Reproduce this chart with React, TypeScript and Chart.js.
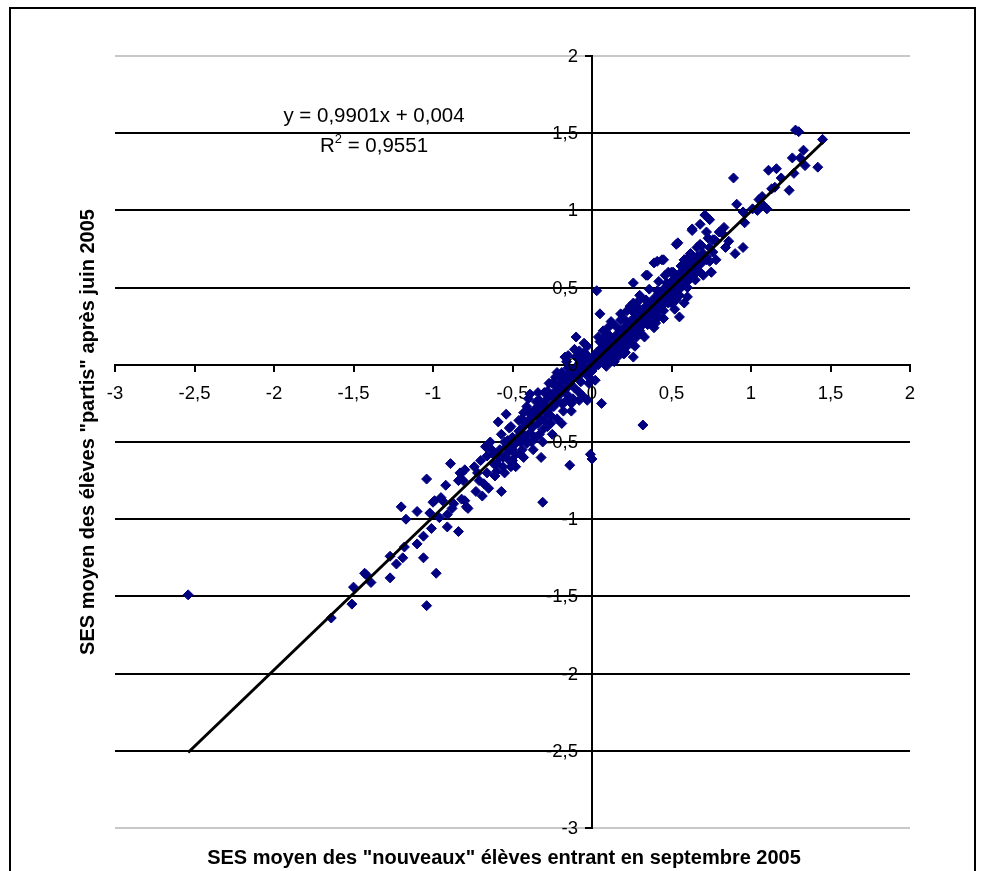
import React, { useEffect, useRef } from 'react';
import { Chart, registerables } from 'chart.js';

Chart.register(...registerables);

// Axis titles and regression annotation
const X_TITLE = 'SES moyen des "nouveaux" élèves entrant en septembre 2005';
const Y_TITLE = 'SES moyen des élèves "partis" après juin 2005';
const SLOPE = 0.9901;
const INTERCEPT = 0.004;
const EQUATION = 'y = 0,9901x + 0,004';
const R2_VALUE = '0,9551';

// Axis ranges
const X_MIN = -3;
const X_MAX = 2;
const Y_MIN = -3;
const Y_MAX = 2;
const STEP = 0.5;

// Schools: [SES of new pupils, SES of departed pupils]
const lowerTail: [number, number][] = [
  [-2.54, -1.49], [-1.64, -1.64], [-1.51, -1.55], [-1.50, -1.44], [-1.43, -1.35], [-1.42, -1.36],
  [-1.39, -1.41], [-1.27, -1.38], [-1.27, -1.24], [-1.23, -1.29], [-1.19, -1.25], [-1.18, -1.18],
  [-1.20, -0.92], [-1.17, -1.00], [-1.10, -0.95], [-1.10, -1.16], [-1.06, -1.11], [-1.06, -1.25],
  [-1.04, -0.74], [-1.04, -1.56], [-1.01, -1.06], [-0.98, -1.35], [-1.02, -0.96], [-0.99, -0.88],
  [-0.94, -0.88], [-0.96, -0.99], [-0.92, -0.78], [-0.89, -0.64], [-0.91, -1.05], [-0.91, -0.97],
  [-0.88, -0.93], [-0.84, -1.08], [-0.83, -0.70], [-0.81, -0.75], [-0.84, -0.75], [-0.82, -0.87],
  [-0.79, -0.92], [-0.80, -0.88], [-1.00, -0.89], [-0.95, -0.86], [-0.87, -0.90], [-0.82, -0.70],
  [-0.80, -0.68], [-0.78, -0.93],
];

const lowerCloud: [number, number][] = [
  [-0.74, -0.66], [-0.73, -0.82], [-0.71, -0.75], [-0.68, -0.77], [-0.67, -0.53], [-0.66, -0.59],
  [-0.63, -0.55], [-0.62, -0.64], [-0.60, -0.69], [-0.58, -0.60], [-0.57, -0.82], [-0.56, -0.66],
  [-0.54, -0.53], [-0.53, -0.49], [-0.51, -0.66], [-0.52, -0.41], [-0.59, -0.37], [-0.54, -0.32],
  [-0.50, -0.55], [-0.47, -0.49], [-0.45, -0.45], [-0.44, -0.35], [-0.43, -0.31], [-0.42, -0.48],
  [-0.41, -0.27], [-0.39, -0.19], [-0.38, -0.40], [-0.36, -0.29], [-0.35, -0.47], [-0.33, -0.23],
  [-0.32, -0.60], [-0.31, -0.89], [-0.30, -0.36], [-0.29, -0.27], [-0.28, -0.17], [-0.26, -0.38],
  [-0.24, -0.25], [-0.23, -0.08], [-0.21, -0.14], [-0.19, -0.05], [-0.17, 0.05], [-0.15, -0.14],
  [-0.14, -0.65], [-0.13, -0.25], [-0.10, -0.06], [-0.08, -0.23], [-0.07, 0.07], [-0.04, -0.05],
  [-0.03, 0.12], [-0.01, -0.58], [0.00, -0.61], [-0.17, -0.24],
  [-0.62, -0.58], [-0.60, -0.64], [-0.58, -0.55], [-0.56, -0.60], [-0.55, -0.50], [-0.53, -0.57],
  [-0.52, -0.62], [-0.50, -0.47], [-0.49, -0.52], [-0.48, -0.58], [-0.46, -0.43], [-0.45, -0.50],
  [-0.44, -0.55], [-0.43, -0.40], [-0.42, -0.46], [-0.41, -0.51], [-0.40, -0.36], [-0.39, -0.44],
  [-0.38, -0.33], [-0.37, -0.40], [-0.36, -0.47], [-0.35, -0.32], [-0.34, -0.38], [-0.33, -0.28],
  [-0.32, -0.35], [-0.31, -0.42], [-0.30, -0.26], [-0.29, -0.31], [-0.28, -0.22], [-0.27, -0.29],
  [-0.26, -0.33], [-0.25, -0.20], [-0.24, -0.27], [-0.23, -0.17], [-0.22, -0.24], [-0.21, -0.13],
  [-0.20, -0.19], [-0.19, -0.25], [-0.18, -0.10], [-0.17, -0.16], [-0.16, -0.07], [-0.15, -0.20],
  [-0.14, -0.12], [-0.13, -0.04], [-0.12, -0.09], [-0.11, -0.15], [-0.10, -0.02], [-0.09, -0.07],
  [-0.08, 0.01], [-0.07, -0.11], [-0.06, -0.05], [-0.05, 0.03], [-0.04, -0.02], [-0.03, 0.06],
  [-0.02, -0.08], [-0.01, 0.02], [0.00, -0.04],
  [-0.05, 0.08], [-0.10, 0.05], [-0.15, -0.02], [-0.20, -0.08], [-0.25, -0.12], [-0.30, -0.18],
  [-0.35, -0.24], [-0.40, -0.30], [-0.02, -0.12], [-0.08, -0.18], [-0.12, -0.22], [-0.18, -0.30],
  [-0.22, -0.35], [-0.28, -0.40], [-0.33, -0.45], [-0.38, -0.50], [-0.45, -0.58], [-0.50, -0.62],
  [-0.66, -0.70], [-0.64, -0.50], [-0.61, -0.72], [-0.57, -0.45], [-0.55, -0.70], [-0.51, -0.40],
  [-0.48, -0.66], [-0.46, -0.36], [-0.43, -0.60], [-0.40, -0.22], [-0.37, -0.55], [-0.34, -0.18],
  [-0.31, -0.50], [-0.27, -0.12], [-0.25, -0.45], [-0.22, -0.05], [-0.19, -0.38], [-0.16, 0.02],
  [-0.13, -0.30], [-0.11, 0.10], [-0.06, -0.20], [-0.05, 0.14], [-0.70, -0.62], [-0.69, -0.85],
  [-0.65, -0.80], [-0.72, -0.70],
];

const upperCloud: [number, number][] = [
  [0.03, 0.48], [0.05, 0.33], [-0.10, 0.18], [0.06, -0.25], [-0.03, -0.23], [0.04, 0.18],
  [0.07, 0.22], [-0.15, 0.06], [-0.08, 0.09], [-0.20, -0.08], [-0.24, -0.12], [-0.07, 0.01],
  [-0.03, 0.05], [-0.01, -0.04], [0.03, 0.02], [0.07, 0.05], [0.11, 0.09], [0.12, 0.03],
  [0.09, -0.01], [0.16, 0.16], [0.18, 0.29], [0.20, 0.22], [0.22, 0.35], [0.26, 0.53],
  [0.27, 0.27], [0.24, 0.16], [0.26, 0.05], [0.20, 0.07], [0.29, 0.37], [0.30, 0.22],
  [0.34, 0.58], [0.34, 0.42], [0.35, 0.31], [0.39, 0.66], [0.41, 0.48], [0.43, 0.37],
  [0.44, 0.68], [0.47, 0.53], [0.48, 0.40], [0.51, 0.59], [0.53, 0.78], [0.55, 0.31],
  [0.58, 0.40], [0.58, 0.68], [0.60, 0.55], [0.62, 0.72], [0.64, 0.61], [0.68, 0.78],
  [0.69, 0.66], [0.72, 0.70], [0.75, 0.60], [0.76, 0.81], [0.63, 0.87], [0.32, -0.39],
  [0.01, 0.05], [0.02, -0.01], [0.03, 0.08], [0.04, 0.00], [0.05, 0.04], [0.06, 0.11],
  [0.07, 0.02], [0.08, 0.07], [0.09, 0.13], [0.10, 0.05], [0.11, 0.10], [0.12, 0.16],
  [0.13, 0.08], [0.14, 0.12], [0.15, 0.19], [0.16, 0.11], [0.17, 0.15], [0.18, 0.22],
  [0.19, 0.13], [0.20, 0.18], [0.21, 0.25], [0.22, 0.16], [0.23, 0.21], [0.24, 0.28],
  [0.25, 0.19], [0.26, 0.24], [0.27, 0.31], [0.28, 0.22], [0.29, 0.27], [0.30, 0.34],
  [0.31, 0.25], [0.32, 0.30], [0.33, 0.37], [0.34, 0.28], [0.35, 0.33], [0.36, 0.40],
  [0.37, 0.31], [0.38, 0.36], [0.39, 0.43], [0.40, 0.34], [0.41, 0.39], [0.42, 0.46],
  [0.43, 0.37], [0.44, 0.42], [0.45, 0.49], [0.46, 0.40], [0.47, 0.45], [0.48, 0.52],
  [0.49, 0.43], [0.50, 0.48], [0.51, 0.55], [0.52, 0.46], [0.53, 0.51], [0.54, 0.58],
  [0.55, 0.49], [0.56, 0.54], [0.57, 0.61], [0.58, 0.52], [0.59, 0.57], [0.60, 0.64],
  [0.61, 0.55], [0.62, 0.60], [0.63, 0.67], [0.64, 0.58], [0.65, 0.63], [0.66, 0.70],
  [0.67, 0.61], [0.68, 0.66], [0.70, 0.72], [0.72, 0.68], [0.74, 0.76], [0.76, 0.73],
  [0.78, 0.80],
  [0.05, 0.09], [0.08, 0.02], [0.12, 0.03], [0.15, 0.08], [0.18, 0.10], [0.22, 0.12],
  [0.25, 0.14], [0.28, 0.18], [0.31, 0.20], [0.35, 0.26], [0.38, 0.28], [0.42, 0.31],
  [0.15, 0.25], [0.20, 0.30], [0.10, 0.20], [0.25, 0.35], [0.30, 0.42], [0.05, 0.15],
  [0.02, -0.10], [0.45, 0.35], [0.50, 0.40], [0.55, 0.45], [0.60, 0.50], [0.65, 0.55],
  [0.50, 0.60], [0.58, 0.68], [0.62, 0.72],
  [0.10, 0.24], [0.14, 0.02], [0.18, 0.33], [0.21, 0.08], [0.24, 0.38], [0.27, 0.12],
  [0.30, 0.45], [0.33, 0.18], [0.36, 0.49], [0.39, 0.24], [0.42, 0.54], [0.45, 0.30],
  [0.48, 0.60], [0.52, 0.36], [0.56, 0.64], [0.60, 0.44], [0.66, 0.76], [0.70, 0.58],
  [0.73, 0.82], [0.78, 0.68], [0.80, 0.86], [0.84, 0.76], [0.12, 0.28], [0.08, 0.18],
  [0.16, 0.05], [0.26, 0.40], [0.40, 0.27], [0.46, 0.58], [0.53, 0.42], [0.68, 0.71],
];

const upperTail: [number, number][] = [
  [1.28, 1.52], [1.30, 1.51], [1.45, 1.46], [1.33, 1.39], [1.26, 1.34], [1.31, 1.34],
  [1.34, 1.29], [1.42, 1.28], [1.27, 1.24], [1.16, 1.27], [1.11, 1.26], [1.19, 1.21],
  [0.89, 1.21], [1.15, 1.15], [1.13, 1.14], [1.24, 1.13], [1.07, 1.09], [1.05, 1.07],
  [0.91, 1.04], [1.08, 1.03], [1.10, 1.01], [0.95, 0.99], [1.01, 1.01], [1.04, 1.00],
  [0.96, 0.92], [0.71, 0.97], [0.74, 0.94], [0.68, 0.91], [0.63, 0.88], [0.72, 0.86],
  [0.83, 0.89], [0.82, 0.85], [0.86, 0.80], [0.77, 0.81], [0.54, 0.79], [0.69, 0.77],
  [0.95, 0.76], [0.90, 0.72], [0.41, 0.67], [0.45, 0.68], [0.60, 0.69], [0.74, 0.67],
  [0.35, 0.58], [0.51, 0.60], [0.58, 0.66], [0.64, 0.63], [0.75, 0.60],
];

const FONT = '"Liberation Sans", Arial, Helvetica, sans-serif';
const TICK_SIZE = 18.5;
const fr = (v: number) => String(Math.round(v * 10) / 10).replace('.', ',');

export default function App() {
  const canvasRef = useRef<HTMLCanvasElement | null>(null);

  useEffect(() => {
    const canvas = canvasRef.current;
    if (!canvas) return;

    const schools = [...lowerTail, ...lowerCloud, ...upperCloud, ...upperTail].map(([x, y]) => ({ x, y }));
    const xs = schools.map((p) => p.x);
    const xLo = Math.min(...xs);
    const xHi = Math.max(...xs);
    const trend = [
      { x: xLo, y: SLOPE * xLo + INTERCEPT },
      { x: xHi, y: SLOPE * xHi + INTERCEPT },
    ];

    const decor = {
      id: 'decor',
      beforeDraw(chart: any) {
        const { ctx, width, height } = chart;
        ctx.save();
        ctx.fillStyle = '#ffffff';
        ctx.fillRect(0, 0, width, height);
        ctx.restore();
      },
      afterDraw(chart: any) {
        const { ctx } = chart;
        const xScale = chart.scales.x;
        const yScale = chart.scales.y;
        ctx.save();
        // outer frame
        ctx.strokeStyle = '#000';
        ctx.lineWidth = 2;
        ctx.strokeRect(10, 8, 965, 900);

        ctx.fillStyle = '#000';

        // value labels of the vertical axis, left of its tick marks
        const axisX = xScale.getPixelForValue(0);
        ctx.font = `${TICK_SIZE}px ${FONT}`;
        ctx.textAlign = 'right';
        ctx.textBaseline = 'middle';
        yScale.ticks.forEach((t: any) => {
          ctx.fillText(fr(t.value), axisX - 14, yScale.getPixelForValue(t.value) + 1);
        });

        // axis titles
        ctx.textAlign = 'center';
        ctx.font = `bold 20px ${FONT}`;
        ctx.fillText(X_TITLE, 504, 858);
        ctx.save();
        ctx.translate(88, 432);
        ctx.rotate(-Math.PI / 2);
        ctx.fillText(Y_TITLE, 0, 0);
        ctx.restore();

        // regression equation
        ctx.font = `20.5px ${FONT}`;
        ctx.textBaseline = 'alphabetic';
        ctx.fillText(EQUATION, 374, 122);
        const rest = ` = ${R2_VALUE}`;
        const wR = ctx.measureText('R').width;
        const wRest = ctx.measureText(rest).width;
        ctx.font = `13px ${FONT}`;
        const w2 = ctx.measureText('2').width;
        const start = 374 - (wR + w2 + wRest) / 2;
        ctx.textAlign = 'left';
        ctx.font = `20.5px ${FONT}`;
        ctx.fillText('R', start, 152);
        ctx.font = `13px ${FONT}`;
        ctx.fillText('2', start + wR, 143);
        ctx.font = `20.5px ${FONT}`;
        ctx.fillText(rest, start + wR + w2, 152);
        ctx.restore();
      },
    };

    const chart = new Chart(canvas, {
      type: 'scatter',
      data: {
        datasets: [
          {
            type: 'line',
            label: 'trend',
            data: trend,
            borderColor: '#000',
            borderWidth: 3,
            pointRadius: 0,
            fill: false,
            order: 0,
          },
          {
            label: 'écoles',
            data: schools,
            pointStyle: 'rectRot',
            pointRadius: 5,
            pointBorderWidth: 1,
            backgroundColor: '#000080',
            borderColor: '#000080',
            order: 1,
          },
        ],
      },
      options: {
        animation: false,
        responsive: false,
        layout: { padding: { left: 115, right: 73, top: 56, bottom: 43 } },
        plugins: { legend: { display: false }, tooltip: { enabled: false } },
        scales: {
          x: {
            type: 'linear',
            min: X_MIN,
            max: X_MAX,
            position: { y: 0 },
            grid: { drawOnChartArea: false, drawTicks: true, tickLength: 6, tickColor: '#000', lineWidth: 2 },
            border: { display: true, color: '#000', width: 2 },
            ticks: {
              stepSize: STEP,
              autoSkip: false,
              maxRotation: 0,
              padding: 12,
              color: '#000',
              font: { family: FONT, size: TICK_SIZE },
              callback: (v: any) => fr(Number(v)),
            },
          },
          y: {
            type: 'linear',
            min: Y_MIN,
            max: Y_MAX,
            position: { x: 0 },
            grid: {
              drawOnChartArea: true,
              drawTicks: true,
              tickLength: 6,
              tickColor: '#000',
              lineWidth: 2,
              color: (c: any) => (c.tick && (c.tick.value === Y_MAX || c.tick.value === Y_MIN) ? '#c8c8c8' : '#000'),
            },
            border: { display: true, color: '#000', width: 2 },
            ticks: {
              display: false,
              stepSize: STEP,
              autoSkip: false,
            },
          },
        },
      },
      plugins: [decor],
    });

    return () => chart.destroy();
  }, []);

  return (
    <div style={{ position: 'fixed', left: 0, top: 0, width: 983, height: 871, overflow: 'hidden', background: '#fff' }}>
      <canvas ref={canvasRef} width={983} height={871} style={{ display: 'block' }} />
    </div>
  );
}
